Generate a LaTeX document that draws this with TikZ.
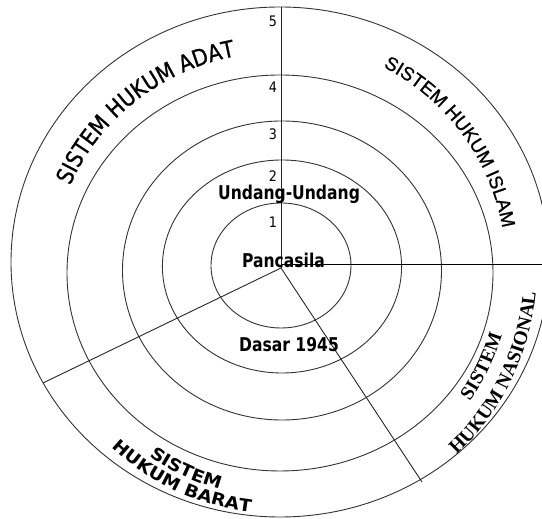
\documentclass[tikz,border=0pt]{standalone}
\usepackage{fontspec}
\setmainfont{DejaVu Sans}
\newfontfamily\tahomalike{DejaVu Sans}[FakeStretch=0.82]
\newfontfamily\digitfont{DejaVu Sans}[FakeStretch=0.88]
\newfontfamily\adatfont{DejaVu Sans}[FakeStretch=0.88,FakeBold=1]
\newfontfamily\islamfont{Liberation Sans}[FakeBold=0.8]
\newfontfamily\nasfont{Liberation Serif}
\newfontfamily\baratfont{DejaVu Sans}[FakeStretch=1.1]
\usetikzlibrary{decorations.text,calc}
\begin{document}
\begin{tikzpicture}[x=1pt,y=1pt,
  ring/.style={draw=black!80,line width=0.9pt},
  spoke/.style={draw=black!85,line width=0.9pt},
  corelabel/.style={anchor=base,inner sep=0pt,font=\tahomalike\bfseries\fontsize{19}{19}\selectfont},
  ringnum/.style={anchor=base,inner sep=0pt,font=\digitfont\fontsize{14.5}{14.5}\selectfont},
  arclabel/.style={decorate,decoration={text along path,text align=center,text={#1}}}]
\useasboundingbox (0,0) rectangle (542,519);

% centre of the rings and ends of the dividing lines
\coordinate (o) at (280,251);
\coordinate (hub) at (281,251);
\coordinate (top) at (281,512);
\coordinate (hubE) at (281,255);
\coordinate (east) at (542,255);
\coordinate (sw) at (43,136);
\coordinate (se) at (422,37);

% concentric rings
\draw[ring] (281,253.5) ellipse [x radius=70,   y radius=62.5];
\draw[ring] (282,252.5) ellipse [x radius=119.6,y radius=106.5];
\draw[ring] (282,248.5) ellipse [x radius=159.5,y radius=149.5];
\draw[ring] (280,246)   ellipse [x radius=213,  y radius=198];
\draw[ring] (280,257)   ellipse [x radius=269,  y radius=255];

% dividing lines
\draw[spoke] (top) -- (hub);
\draw[spoke,draw=black] (hubE) -- (east);
\draw[spoke] (hub) -- (sw);
\draw[spoke] (hub) -- (se);

% ring numbers
\node[ringnum] (n5) at (273,492) {5};
\node[ringnum] (n4) at (273,426) {4};
\node[ringnum] (n3) at (273,379) {3};
\node[ringnum] (n2) at (273,337) {2};
\node[ringnum] (n1) at (273,291) {1};

% core labels
\node[corelabel] (pancasila) at (283.5,251) {Pancasila};
\node[corelabel] (uu) at (289,319) {Undang-Undang};
\node[corelabel] (dasar) at (289,167) {Dasar 1945};

% curved sector labels
\path[arclabel={|\adatfont\fontsize{23}{23}\selectfont|SISTEM HUKUM ADAT}]
  ($(o)+(160:227 and 216)$) arc[start angle=160,end angle=99,x radius=227,y radius=216];
\path[arclabel={|\islamfont\fontsize{19}{19}\selectfont|SISTEM HUKUM ISLAM}]
  ($(o)+(67:226)$) arc[start angle=67,end angle=6,radius=226];
\path[arclabel={|\nasfont\bfseries\fontsize{19.5}{19.5}\selectfont|HUKUM NASIONAL}]
  ($(o)+(-56:257)$) arc[start angle=-56,end angle=4,radius=257];
\path[arclabel={|\nasfont\bfseries\fontsize{19.5}{19.5}\selectfont|SISTEM}]
  ($(o)+(-56:232)$) arc[start angle=-56,end angle=4,radius=232];
\path[arclabel={|\baratfont\bfseries\fontsize{17}{17}\selectfont|HUKUM BARAT}]
  ($(o)+(-145:246)$) arc[start angle=-145,end angle=-85,radius=246];
\path[arclabel={|\baratfont\bfseries\fontsize{17}{17}\selectfont|SISTEM}]
  ($(o)+(-145:229.5)$) arc[start angle=-145,end angle=-85,radius=229.5];
\end{tikzpicture}
\end{document}
